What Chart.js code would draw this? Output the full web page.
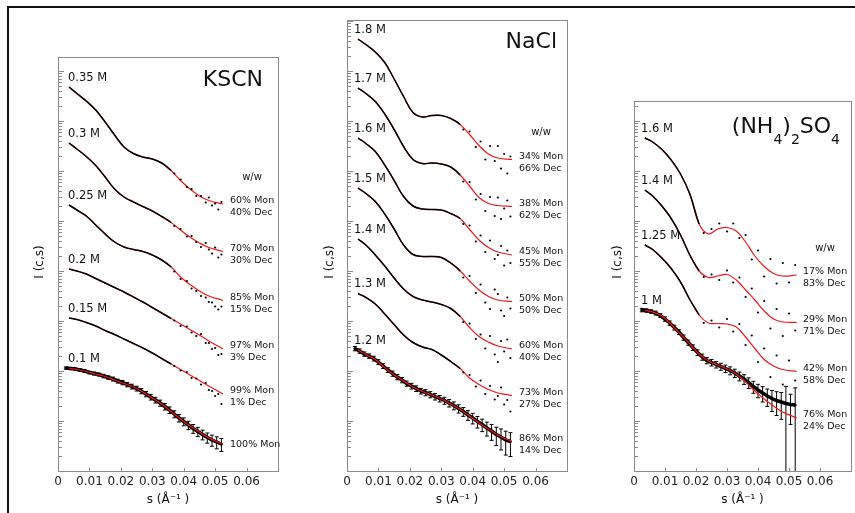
<!DOCTYPE html>
<html>
<head>
<meta charset="utf-8">
<script src="https://cdn.jsdelivr.net/npm/chart.js@4.4.1/dist/chart.umd.min.js"></script>
<style>
  html, body { margin: 0; padding: 0; background: #fff; }
  #fig { position: relative; width: 855px; height: 513px; overflow: hidden; background: #fff; }
  #frame { position: absolute; left: 7px; top: 6px; width: 900px; height: 600px;
           border-top: 2px solid #111; border-left: 2px solid #111; }
  canvas { position: absolute; top: 0; }
</style>
</head>
<body>
<div id="fig">
  <div id="frame"></div>
  <canvas id="kscn" width="290" height="513" style="left:0"></canvas>
  <canvas id="nacl" width="290" height="513" style="left:290px"></canvas>
  <canvas id="ams" width="275" height="513" style="left:580px"></canvas>
</div>
<script>
// s grids (1/A)
const sGrid = [0.0035, 0.006, 0.009, 0.012, 0.015, 0.018, 0.021, 0.024, 0.027, 0.030, 0.033, 0.036, 0.039, 0.042, 0.045, 0.048, 0.0525];
const tailS = [0.037, 0.039, 0.041, 0.0425, 0.044, 0.0455, 0.047, 0.048, 0.049, 0.050, 0.051, 0.052];
const tailS3 = [0.0225, 0.025, 0.0275, 0.030, 0.032, 0.034, 0.036, 0.038, 0.040, 0.042, 0.044, 0.046, 0.048, 0.050, 0.052];
const errS = [0.0025, 0.004, 0.0055, 0.007, 0.0085, 0.010, 0.0115, 0.013, 0.0145, 0.016, 0.0175, 0.019, 0.0205, 0.022, 0.0235, 0.025, 0.0265,
              0.028, 0.0295, 0.031, 0.0325, 0.034, 0.0355, 0.037, 0.0385, 0.040, 0.0415, 0.043, 0.0445, 0.046, 0.0475, 0.049, 0.0505, 0.052];

// KSCN  (log10 I, curves offset for display)
const kscnConc = ['0.35 M', '0.3 M', '0.25 M', '0.2 M', '0.15 M', '0.1 M'];
const kscnMon = ['60% Mon', '70% Mon', '85% Mon', '97% Mon', '99% Mon', '100% Mon'];
const kscnDec = ['40% Dec', '30% Dec', '15% Dec', '3% Dec', '1% Dec', ''];
const kscnFit = [
  [7.68, 7.55, 7.40, 7.22, 6.98, 6.72, 6.48, 6.35, 6.28, 6.24, 6.16, 6.01, 5.81, 5.64, 5.50, 5.41, 5.34],
  [6.56, 6.44, 6.29, 6.11, 5.88, 5.64, 5.48, 5.38, 5.29, 5.20, 5.09, 4.97, 4.82, 4.68, 4.56, 4.47, 4.39],
  [5.32, 5.22, 5.10, 4.92, 4.74, 4.58, 4.48, 4.43, 4.39, 4.32, 4.22, 4.08, 3.88, 3.73, 3.60, 3.50, 3.41],
  [4.04, 4.00, 3.94, 3.85, 3.76, 3.67, 3.58, 3.48, 3.38, 3.27, 3.16, 3.05, 2.94, 2.83, 2.72, 2.60, 2.44],
  [3.06, 3.03, 2.97, 2.90, 2.81, 2.73, 2.64, 2.55, 2.46, 2.36, 2.25, 2.14, 2.03, 1.92, 1.81, 1.70, 1.54],
  [2.05, 2.03, 1.99, 1.94, 1.89, 1.82, 1.75, 1.68, 1.58, 1.46, 1.34, 1.19, 1.04, 0.90, 0.78, 0.66, 0.54]
];
const kscnTail = [
  [5.95, 5.83, 5.68, 5.64, 5.50, 5.50, 5.37, 5.47, 5.31, 5.35, 5.23, 5.38],
  [4.90, 4.84, 4.69, 4.70, 4.58, 4.48, 4.56, 4.43, 4.35, 4.47, 4.27, 4.33],
  [3.99, 3.84, 3.80, 3.65, 3.60, 3.50, 3.47, 3.38, 3.37, 3.29, 3.23, 3.29],
  [3.01, 2.90, 2.89, 2.77, 2.70, 2.74, 2.56, 2.56, 2.44, 2.46, 2.32, 2.34],
  [2.10, 2.01, 1.98, 1.86, 1.85, 1.73, 1.76, 1.62, 1.60, 1.50, 1.54, 1.34]
];
const kscnBand = [2.06, 2.05, 2.04, 2.02, 2.00, 1.97, 1.95, 1.93, 1.90, 1.87, 1.84, 1.80, 1.77, 1.73, 1.69, 1.65, 1.60,
                  1.54, 1.48, 1.42, 1.36, 1.29, 1.22, 1.14, 1.06, 0.99, 0.92, 0.85, 0.79, 0.73, 0.67, 0.62, 0.58, 0.54];
const kscnErr = [0.05, 0.05, 0.05, 0.06, 0.06, 0.06, 0.07, 0.07, 0.08, 0.08, 0.09, 0.09, 0.10, 0.10, 0.11, 0.11, 0.12,
                 0.12, 0.13, 0.13, 0.14, 0.15, 0.15, 0.16, 0.17, 0.18, 0.19, 0.20, 0.21, 0.22, 0.23, 0.25, 0.27, 0.29];

// NaCl
const naclConc = ['1.8 M', '1.7 M', '1.6 M', '1.5 M', '1.4 M', '1.3 M', '1.2 M'];
const naclMon = ['34% Mon', '38% Mon', '45% Mon', '50% Mon', '60% Mon', '73% Mon', '86% Mon'];
const naclDec = ['66% Dec', '62% Dec', '55% Dec', '50% Dec', '40% Dec', '27% Dec', '14% Dec'];
const naclFit = [
  [8.64, 8.53, 8.38, 8.17, 7.84, 7.49, 7.17, 7.08, 7.11, 7.11, 7.05, 6.93, 6.73, 6.51, 6.34, 6.26, 6.23],
  [7.66, 7.55, 7.39, 7.14, 6.83, 6.49, 6.23, 6.15, 6.16, 6.14, 6.08, 5.92, 5.70, 5.47, 5.35, 5.31, 5.29],
  [6.66, 6.55, 6.39, 6.12, 5.81, 5.49, 5.30, 5.24, 5.23, 5.22, 5.15, 5.05, 4.83, 4.62, 4.47, 4.38, 4.32],
  [5.66, 5.55, 5.39, 5.14, 4.84, 4.52, 4.33, 4.29, 4.29, 4.27, 4.16, 4.00, 3.80, 3.62, 3.49, 3.42, 3.39],
  [4.64, 4.52, 4.32, 4.10, 3.86, 3.64, 3.49, 3.42, 3.38, 3.33, 3.25, 3.09, 2.87, 2.69, 2.58, 2.50, 2.44],
  [3.55, 3.47, 3.34, 3.14, 2.93, 2.72, 2.57, 2.48, 2.43, 2.32, 2.19, 2.05, 1.86, 1.73, 1.63, 1.56, 1.51],
  [2.42, 2.33, 2.23, 2.07, 1.92, 1.80, 1.68, 1.59, 1.52, 1.44, 1.34, 1.23, 1.10, 0.96, 0.84, 0.72, 0.59]
];
const naclTail = [
  [6.83, 6.79, 6.48, 6.59, 6.23, 6.50, 6.20, 6.50, 6.05, 6.34, 5.95, 6.29],
  [5.79, 5.78, 5.43, 5.54, 5.20, 5.48, 5.10, 5.47, 5.04, 5.25, 5.41, 5.09],
  [4.94, 4.91, 4.59, 4.71, 4.38, 4.61, 4.24, 4.32, 4.50, 4.11, 4.41, 4.16],
  [3.87, 3.90, 3.56, 3.73, 3.37, 3.24, 3.63, 3.54, 3.21, 3.10, 3.47, 3.25],
  [2.98, 2.95, 2.64, 2.73, 2.45, 2.70, 2.33, 2.18, 2.60, 2.39, 2.63, 2.26],
  [1.97, 1.92, 1.69, 1.81, 1.54, 1.70, 1.43, 1.50, 1.67, 1.33, 1.42, 1.19]
];
const naclBand = [2.45, 2.40, 2.34, 2.30, 2.25, 2.18, 2.10, 2.02, 1.95, 1.88, 1.82, 1.75, 1.70, 1.65, 1.60, 1.57, 1.53,
                  1.49, 1.45, 1.41, 1.36, 1.31, 1.25, 1.19, 1.12, 1.06, 0.99, 0.93, 0.86, 0.80, 0.73, 0.68, 0.62, 0.59];
const naclErr = [0.10, 0.10, 0.10, 0.10, 0.11, 0.11, 0.11, 0.11, 0.12, 0.12, 0.12, 0.12, 0.13, 0.13, 0.13, 0.14, 0.14,
                 0.15, 0.15, 0.16, 0.17, 0.18, 0.19, 0.20, 0.22, 0.24, 0.26, 0.28, 0.31, 0.35, 0.40, 0.45, 0.50, 0.50];

// (NH4)2SO4
const amsConc = ['1.6 M', '1.4 M', '1.25 M', '1 M'];
const amsMon = ['17% Mon', '29% Mon', '42% Mon', '76% Mon'];
const amsDec = ['83% Dec', '71% Dec', '58% Dec', '24% Dec'];
const amsFit = [
  [6.66, 6.58, 6.43, 6.22, 5.94, 5.54, 4.94, 4.74, 4.84, 4.87, 4.80, 4.58, 4.30, 4.09, 3.95, 3.90, 3.92],
  [5.62, 5.50, 5.30, 5.05, 4.72, 4.32, 4.00, 3.87, 3.90, 3.93, 3.82, 3.62, 3.42, 3.20, 3.04, 2.98, 2.97],
  [4.52, 4.43, 4.26, 4.05, 3.78, 3.43, 3.12, 2.96, 2.95, 2.94, 2.88, 2.68, 2.45, 2.23, 2.10, 2.03, 1.99],
  [3.21, 3.18, 3.10, 2.93, 2.74, 2.54, 2.34, 2.20, 2.12, 2.04, 1.94, 1.78, 1.60, 1.44, 1.30, 1.18, 1.06]
];
const amsTail = [
  [4.76, 4.84, 4.95, 4.79, 4.95, 4.66, 4.72, 4.23, 4.41, 3.89, 4.24, 3.75, 4.16, 3.77, 4.12],
  [3.88, 3.93, 3.82, 4.01, 3.77, 3.87, 3.48, 3.65, 3.17, 3.40, 2.85, 3.24, 2.70, 3.15, 2.81],
  [2.96, 3.01, 2.87, 3.04, 2.79, 2.94, 2.52, 2.71, 2.18, 2.45, 1.88, 2.31, 1.73, 2.21, 1.81]
];
const amsBand = [3.22, 3.21, 3.19, 3.16, 3.11, 3.04, 2.96, 2.87, 2.78, 2.67, 2.57, 2.47, 2.37, 2.28, 2.21, 2.17, 2.13,
                 2.09, 2.05, 2.01, 1.96, 1.90, 1.84, 1.77, 1.69, 1.62, 1.56, 1.50, 1.45, 1.41, 1.38, 1.35, 1.33, 1.32];
const amsErr = [0.08, 0.08, 0.08, 0.09, 0.09, 0.10, 0.10, 0.11, 0.11, 0.12, 0.12, 0.13, 0.13, 0.14, 0.14, 0.15, 0.15,
                0.16, 0.17, 0.18, 0.19, 0.20, 0.22, 0.24, 0.27, 0.30, 0.34, 0.38, 0.45, 0.50, 0.55, 1.20, 0.60, 1.20];

const FONT = '"DejaVu Sans", "Liberation Sans", sans-serif';
const RED = '#f01818';
const GREY = '#8a8a8a';
Chart.defaults.font.family = FONT;

function toPoints(grid, logs) {
  return grid.map((s, k) => ({ x: s, y: Math.pow(10, logs[k]) }));
}

// vertical error bars, relative error r -> I(1-r) .. I(1+r)
const errorBars = {
  id: 'errorBars',
  beforeDatasetsDraw(chart) {
    const { ctx, chartArea: a, scales: { x, y } } = chart;
    ctx.save();
    ctx.beginPath();
    ctx.rect(a.left, a.top, a.width, a.height);
    ctx.clip();
    ctx.strokeStyle = '#000';
    ctx.lineWidth = 1;
    chart.data.datasets.forEach(ds => {
      if (!ds.errors) return;
      ds.data.forEach((pt, k) => {
        const r = ds.errors[k];
        const px = x.getPixelForValue(pt.x);
        const top = y.getPixelForValue(pt.y * (1 + r));
        const low = pt.y * (1 - r);
        const hasLow = low > y.min;
        const bot = hasLow ? y.getPixelForValue(low) : a.bottom;
        ctx.beginPath();
        ctx.moveTo(px, top); ctx.lineTo(px, bot);
        ctx.moveTo(px - 2, top); ctx.lineTo(px + 2, top);
        if (hasLow) { ctx.moveTo(px - 2, bot); ctx.lineTo(px + 2, bot); }
        ctx.stroke();
      });
    });
    ctx.restore();
  }
};

function annotate(p) {
  return {
    id: 'annotate',
    afterDatasetsDraw(chart) {
      const { ctx, chartArea: a, scales: { x, y } } = chart;
      ctx.save();
      ctx.strokeStyle = GREY;
      ctx.lineWidth = 1;
      ctx.strokeRect(Math.round(a.left) + 0.5, Math.round(a.top) + 0.5, Math.round(a.width), Math.round(a.height));

      // inner log ticks on the left, small ticks on the bottom
      ctx.beginPath();
      for (let e = 0; e < Math.ceil(p.logMax); e++) {
        for (let k = 1; k < 10; k++) {
          const v = k * Math.pow(10, e);
          if (v >= y.max) continue;
          const py = Math.round(y.getPixelForValue(v)) + 0.5;
          ctx.moveTo(a.left, py);
          ctx.lineTo(a.left + (k === 1 ? 6 : 4), py);
        }
      }
      for (let k = 1; k < 7; k++) {
        const px = Math.round(x.getPixelForValue(k * 0.01)) + 0.5;
        ctx.moveTo(px, a.bottom);
        ctx.lineTo(px, a.bottom - 3);
      }
      ctx.stroke();

      ctx.fillStyle = '#111';
      ctx.textBaseline = 'middle';
      ctx.textAlign = 'left';
      ctx.font = '11.5px ' + FONT;
      p.conc.forEach((t, i) => {
        ctx.fillText(t, a.left + p.concDx, y.getPixelForValue(Math.pow(10, p.fits[i][0])) - 9);
      });

      ctx.font = '9.5px ' + FONT;
      const lx = a.right - 48;
      let firstY = 0;
      p.mon.forEach((t, i) => {
        const row = p.fits[i];
        const ey = y.getPixelForValue(Math.pow(10, row[row.length - 1]));
        const my = p.dec[i] ? ey - 3 : ey + 1;
        if (i === 0) firstY = my;
        ctx.fillText(t, lx, my);
        if (p.dec[i]) ctx.fillText(p.dec[i], lx, my + 12);
      });
      ctx.font = '10px ' + FONT;
      ctx.textAlign = 'center';
      ctx.fillText('w/w', lx + 22, firstY - 24);

      ctx.font = '12px ' + FONT;
      ctx.fillText('s (\u00c5\u207b\u00b9 )', (a.left + a.right) / 2, 500);
      ctx.save();
      ctx.translate(p.yTitleX, 262);
      ctx.rotate(-Math.PI / 2);
      ctx.fillText('I (c,s)', 0, 0);
      ctx.restore();

      p.drawTitle(ctx, a);
      ctx.restore();
    }
  };
}

function makePanel(id, p) {
  const datasets = [];
  const n = p.fits.length;
  p.fits.forEach((row, i) => {
    const last = i === n - 1;
    datasets.push({
      data: toPoints(sGrid, row),
      borderColor: RED, borderWidth: 1.2,
      pointRadius: 0, tension: 0.4, order: last ? 0 : 2
    });
    if (last) return;
    const dense = toPoints(sGrid, row).filter(pt => pt.x <= p.cutoff);
    datasets.push({
      data: dense.concat(toPoints(p.tailGrid, p.tails[i])),
      borderColor: '#000', borderWidth: 1.5, tension: 0.4, order: 1,
      segment: { borderColor: c => (c.p1.parsed.x > p.cutoff ? 'rgba(0,0,0,0)' : '#000') },
      pointRadius: c => (c.raw && c.raw.x > p.cutoff ? 1.1 : 0),
      pointBackgroundColor: '#000', pointBorderWidth: 0
    });
  });
  datasets.push({
    data: toPoints(errS, p.band), errors: p.err,
    borderColor: '#000', borderWidth: 3.5, pointRadius: 1.5,
    pointBackgroundColor: '#000', pointBorderWidth: 0, tension: 0, order: 1
  });

  return new Chart(document.getElementById(id), {
    type: 'line',
    data: { datasets },
    options: {
      responsive: false,
      animation: false,
      events: [],
      layout: { padding: { left: 0, right: p.padRight, top: p.top, bottom: 0 } },
      plugins: { legend: { display: false }, tooltip: { enabled: false } },
      scales: {
        x: {
          type: 'linear', min: 0, max: 0.07,
          afterFit: s => { s.height = 42; },
          grid: { display: false, drawTicks: false },
          border: { display: false },
          ticks: {
            stepSize: 0.01, autoSkip: false, maxRotation: 0, minRotation: 0, padding: 4,
            color: '#222', font: { family: FONT, size: 12 },
            callback: v => (v === 0 ? '0' : (v > 0.065 ? '' : v.toFixed(2)))
          }
        },
        y: {
          type: 'logarithmic', min: 1, max: Math.pow(10, p.logMax),
          afterFit: s => { s.width = p.axisW; },
          grid: { display: false, drawTicks: false },
          border: { display: false },
          ticks: { display: false }
        }
      }
    },
    plugins: [errorBars, annotate(p)]
  });
}

makePanel('kscn', {
  fits: kscnFit, tails: kscnTail, tailGrid: tailS, cutoff: 0.036,
  band: kscnBand, err: kscnErr, conc: kscnConc, mon: kscnMon, dec: kscnDec,
  logMax: 8.28, top: 57, axisW: 58, padRight: 12, concDx: 10, yTitleX: 40,
  drawTitle(ctx, a) {
    ctx.font = '22px ' + FONT;
    ctx.textAlign = 'right';
    ctx.fillText('KSCN', a.right - 15, a.top + 23);
  }
});

makePanel('nacl', {
  fits: naclFit, tails: naclTail, tailGrid: tailS, cutoff: 0.036,
  band: naclBand, err: naclErr, conc: naclConc, mon: naclMon, dec: naclDec,
  logMax: 9.02, top: 20, axisW: 57, padRight: 13, concDx: 7, yTitleX: 40,
  drawTitle(ctx, a) {
    ctx.font = '22px ' + FONT;
    ctx.textAlign = 'right';
    ctx.fillText('NaCl', a.right - 10, a.top + 22);
  }
});

makePanel('ams', {
  fits: amsFit, tails: amsTail, tailGrid: tailS3, cutoff: 0.021,
  band: amsBand, err: amsErr, conc: amsConc, mon: amsMon, dec: amsDec,
  logMax: 7.4, top: 101, axisW: 54, padRight: 2, concDx: 7, yTitleX: 38,
  drawTitle(ctx, a) {
    // (NH4)2SO4 with subscripts
    const parts = [['(', false], ['NH', false], ['4', true], [')', false], ['2', true], ['SO', false], ['4', true]];
    const big = '22px ' + FONT, small = '14px ' + FONT;
    let w = 0;
    parts.forEach(([t, sub]) => { ctx.font = sub ? small : big; w += ctx.measureText(t).width; });
    let xPos = a.right - 11 - w;
    const base = a.top + 32;
    ctx.textAlign = 'left';
    ctx.textBaseline = 'alphabetic';
    parts.forEach(([t, sub]) => {
      ctx.font = sub ? small : big;
      ctx.fillText(t, xPos, sub ? base + 11 : base);
      xPos += ctx.measureText(t).width;
    });
  }
});
</script>
</body>
</html>
